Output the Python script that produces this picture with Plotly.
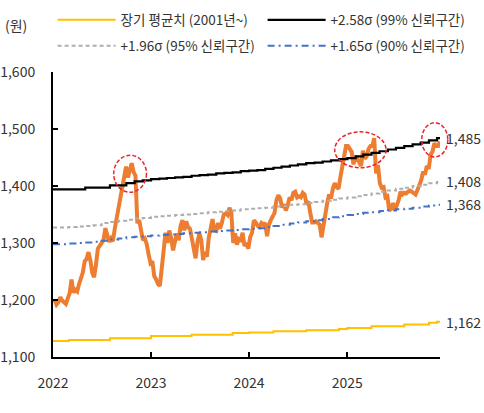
import pandas as pd
import plotly.graph_objects as go

# 원/달러 환율 (주간, 금요일 기준)
krw_2022 = [1200, 1192, 1196, 1205, 1199, 1197, 1193, 1203, 1212, 1236, 1213, 1218,
            1215, 1228, 1236, 1248, 1268, 1272, 1284, 1270, 1248, 1240, 1262, 1290, 1295,
            1300, 1305, 1326, 1310, 1302, 1308, 1303, 1325, 1342, 1362, 1381, 1393, 1410, 1434,
            1415, 1428, 1440, 1425, 1418, 1335, 1340, 1322, 1305, 1308, 1298, 1280, 1265]
krw_2023 = [1268, 1242, 1236, 1228, 1225, 1262, 1295, 1318, 1300, 1322, 1309, 1287, 1302,
            1317, 1305, 1330, 1340, 1322, 1338, 1328, 1325, 1306, 1290, 1273, 1302, 1317,
            1305, 1270, 1284, 1276, 1309, 1325, 1342, 1322, 1321, 1335, 1325, 1336, 1350,
            1352, 1349, 1362, 1353, 1300, 1317, 1297, 1307, 1305, 1318, 1295, 1300, 1290]
krw_2024 = [1310, 1318, 1340, 1336, 1330, 1328, 1335, 1332, 1335, 1312, 1332, 1340, 1348,
            1353, 1375, 1384, 1378, 1362, 1368, 1357, 1366, 1380, 1375, 1388, 1390, 1380,
            1382, 1380, 1388, 1385, 1368, 1373, 1353, 1336, 1336, 1338, 1335, 1332, 1310,
            1334, 1350, 1370, 1385, 1378, 1395, 1405, 1398, 1395, 1415, 1435, 1450, 1470]
krw_2025 = [1470, 1465, 1460, 1438, 1452, 1448, 1443, 1435, 1462, 1448, 1452, 1465, 1470,
            1470, 1484, 1422, 1437, 1405, 1397, 1398, 1380, 1382, 1357, 1360, 1370, 1358,
            1366, 1375, 1390, 1385, 1388, 1387, 1390, 1392, 1390, 1388, 1385, 1393, 1400,
            1410, 1425, 1420, 1435, 1430, 1455, 1460, 1475, 1470, 1470, 1478]
krw = krw_2022 + krw_2023 + krw_2024 + krw_2025
krw_dates = pd.date_range("2022-01-07", periods=len(krw), freq="W-FRI")

# 기준선 (월별 계단, 2022.01 ~ 2025.12 + 마지막 관측일)
band_dates = list(pd.date_range("2022-01-01", periods=48, freq="MS")) + [pd.Timestamp("2025-12-12")]
mean_lt = [1128, 1128, 1130, 1130, 1130, 1130, 1130, 1133, 1133, 1133, 1133, 1133,
           1137, 1137, 1137, 1137, 1137, 1139, 1139, 1139, 1139, 1139, 1142, 1142,
           1143, 1143, 1143, 1145, 1145, 1145, 1145, 1147, 1147, 1147, 1147, 1149,
           1151, 1151, 1151, 1154, 1154, 1154, 1154, 1157, 1157, 1157, 1160, 1162, 1162]
sig258 = [1394, 1394, 1394, 1394, 1397, 1397, 1397, 1401, 1401, 1405, 1408, 1410,
          1412, 1413, 1414, 1415, 1416, 1418, 1419, 1420, 1422, 1423, 1424, 1426,
          1427, 1428, 1430, 1432, 1434, 1436, 1438, 1440, 1441, 1443, 1445, 1447,
          1449, 1452, 1455, 1458, 1461, 1464, 1467, 1470, 1473, 1476, 1480, 1484, 1485]
sig196 = [1327, 1327, 1328, 1329, 1330, 1331, 1335, 1337, 1339, 1341, 1343, 1344,
          1346, 1347, 1348, 1349, 1350, 1351, 1352, 1354, 1355, 1356, 1357, 1359,
          1360, 1361, 1362, 1364, 1365, 1367, 1368, 1370, 1372, 1374, 1376, 1378,
          1380, 1382, 1384, 1387, 1390, 1392, 1395, 1397, 1400, 1402, 1405, 1407, 1408]
sig165 = [1298, 1298, 1299, 1300, 1301, 1302, 1304, 1306, 1308, 1310, 1311, 1312,
          1313, 1314, 1315, 1316, 1317, 1318, 1319, 1320, 1321, 1322, 1323, 1324,
          1325, 1326, 1328, 1330, 1332, 1334, 1336, 1338, 1340, 1342, 1345, 1347,
          1349, 1351, 1353, 1354, 1356, 1357, 1359, 1360, 1362, 1364, 1366, 1367, 1368]

FONT = "Noto Sans CJK KR"
TXT = "#333333"
X_RANGE = ["2022-01-01", "2025-12-12"]
Y_RANGE = [1100, 1600]

fig = go.Figure()
fig.add_trace(go.Scatter(x=krw_dates, y=krw, mode="lines", showlegend=False,
                         line=dict(color="#ED7D31", width=4)))
fig.add_trace(go.Scatter(x=band_dates, y=mean_lt, mode="lines", name="장기 평균치 (2001년~)",
                         line=dict(color="#FFC000", width=2, shape="hv"), legend="legend"))
fig.add_trace(go.Scatter(x=band_dates, y=sig258, mode="lines", name="+2.58σ (99% 신뢰구간)",
                         line=dict(color="black", width=2.2, shape="hv"), legend="legend"))
fig.add_trace(go.Scatter(x=band_dates, y=sig196, mode="lines", name="+1.96σ (95% 신뢰구간)",
                         line=dict(color="#AEAEAE", width=2, shape="hv", dash="4px,3px"),
                         legend="legend2"))
fig.add_trace(go.Scatter(x=band_dates, y=sig165, mode="lines", name="+1.65σ (90% 신뢰구간)",
                         line=dict(color="#4472C4", width=2, shape="hv", dash="7px,4px,2px,4px"),
                         legend="legend2"))

# 끝값 라벨
for arr in (sig258, sig196, sig165, mean_lt):
    fig.add_annotation(x=band_dates[-1], y=arr[-1], text=f"{arr[-1]:,}", showarrow=False,
                       xanchor="left", yanchor="middle", xshift=4,
                       font=dict(family=FONT, size=14, color=TXT))


# 빨간 점선 원 (paper 좌표로 변환해서 축 밖으로 나가도 잘리지 않게)
def to_paper(date, val):
    t0, t1 = pd.Timestamp(X_RANGE[0]), pd.Timestamp(X_RANGE[1])
    fx = (pd.Timestamp(date) - t0) / (t1 - t0)
    fy = (val - Y_RANGE[0]) / (Y_RANGE[1] - Y_RANGE[0])
    return fx, fy


circles = [("2022-08-15", "2022-12-15", 1389, 1454),
           ("2024-11-15", "2025-05-25", 1432, 1495),
           ("2025-10-05", "2026-01-10", 1451, 1511)]
for d0, d1, v0, v1 in circles:
    x0, y0 = to_paper(d0, v0)
    x1, y1 = to_paper(d1, v1)
    fig.add_shape(type="circle", xref="paper", yref="paper", x0=x0, x1=x1, y0=y0, y1=y1,
                  line=dict(color="#E8262B", width=1.5, dash="4px,2px"))

fig.add_annotation(text="(원)", xref="paper", yref="paper", x=-0.128, y=1.165,
                   xanchor="left", yanchor="middle", showarrow=False,
                   font=dict(family=FONT, size=14, color=TXT))

legend_style = dict(orientation="h", xref="paper", yref="paper", xanchor="left",
                    yanchor="middle", itemwidth=58, entrywidth=137, entrywidthmode="pixels",
                    bgcolor="rgba(0,0,0,0)", font=dict(family=FONT, size=13.5, color=TXT),
                    traceorder="normal")

fig.update_layout(
    width=484, height=413,
    margin=dict(l=53, r=44, t=72, b=56, autoexpand=False),
    plot_bgcolor="white", paper_bgcolor="white",
    font=dict(family=FONT, size=14, color=TXT),
    legend=dict(x=-0.001, y=(357 - 20) / 285, **legend_style),
    legend2=dict(x=-0.001, y=(357 - 46) / 285, **legend_style),
    xaxis=dict(type="date", range=X_RANGE, tickformat="%Y",
               dtick="M12", tick0="2022-01-01", ticks="inside", ticklen=5, tickwidth=1.5,
               tickcolor="black", showline=True, linecolor="black", linewidth=2,
               showgrid=False, zeroline=False, ticklabelstandoff=12),
    yaxis=dict(range=Y_RANGE, dtick=100, tickformat=",", ticks="inside", ticklen=5,
               tickwidth=1.5, tickcolor="black", showline=True, linecolor="black",
               linewidth=2, showgrid=False, zeroline=False, ticklabelstandoff=13),
)

fig.write_html("out.html", config={"displayModeBar": False},
               post_script="document.body.style.margin='0';")
